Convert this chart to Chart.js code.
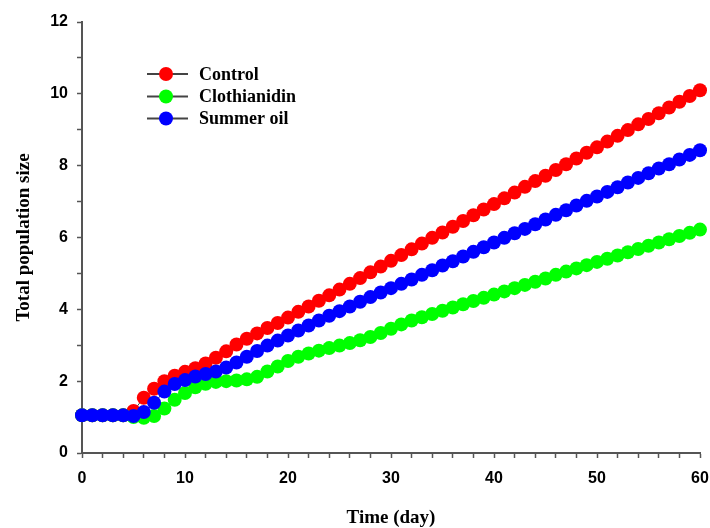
<!DOCTYPE html>
<html>
<head>
<meta charset="utf-8">
<title>Total population size</title>
<script src="https://cdn.jsdelivr.net/npm/chart.js@4.4.1/dist/chart.umd.min.js"></script>
<style>
    body { margin: 0; background: #fff; }
    #myChart { display: block; }
</style>
</head>
<body>
<canvas id="myChart" width="710" height="528"></canvas>
<script>
// data
const days = [0,1,2,3,4,5,6,7,8,9,10,11,12,13,14,15,16,17,18,19,20,21,22,23,24,25,26,27,28,29,30,
    31,32,33,34,35,36,37,38,39,40,41,42,43,44,45,46,47,48,49,50,51,52,53,54,55,56,57,58,59,60];
const control = [1.05,1.05,1.05,1.05,1.05,1.17,1.54,1.79,2.00,2.15,2.26,2.36,2.49,2.65,2.83,3.02,
    3.18,3.33,3.48,3.62,3.77,3.93,4.08,4.24,4.39,4.55,4.71,4.87,5.03,5.19,5.35,5.51,5.67,5.83,5.99,
    6.14,6.30,6.46,6.62,6.78,6.93,7.09,7.25,7.41,7.57,7.72,7.88,8.04,8.20,8.36,8.51,8.67,8.83,8.99,
    9.15,9.30,9.46,9.62,9.78,9.94,10.10];
const clothianidin = [1.05,1.05,1.05,1.05,1.05,1.00,0.98,1.03,1.24,1.48,1.67,1.83,1.93,1.98,2.00,
    2.02,2.05,2.12,2.27,2.41,2.56,2.68,2.77,2.85,2.92,2.99,3.06,3.14,3.23,3.34,3.46,3.58,3.69,3.78,
    3.87,3.96,4.05,4.14,4.23,4.32,4.41,4.50,4.59,4.68,4.77,4.86,4.96,5.05,5.14,5.23,5.32,5.41,5.50,
    5.59,5.68,5.77,5.86,5.95,6.04,6.13,6.22];
const summerOil = [1.05,1.05,1.05,1.05,1.05,1.03,1.14,1.40,1.71,1.92,2.03,2.13,2.20,2.27,2.38,2.52,
    2.68,2.84,2.99,3.13,3.27,3.41,3.55,3.69,3.82,3.95,4.08,4.21,4.34,4.47,4.59,4.71,4.83,4.96,5.09,
    5.22,5.34,5.47,5.60,5.73,5.86,5.99,6.12,6.24,6.37,6.50,6.63,6.76,6.89,7.02,7.14,7.27,7.40,7.53,
    7.66,7.79,7.92,8.04,8.17,8.30,8.43];
const seriesNames = ['Control', 'Clothianidin', 'Summer oil'];
const seriesColors = ['#ff0000', '#00ff00', '#0000ff'];
const xTickLabels = [0, 10, 20, 30, 40, 50, 60];
const yTickLabels = [0, 2, 4, 6, 8, 10, 12];

const axisColor = '#555555';
const serif = '"Liberation Serif", "Times New Roman", serif';
const sans = '"Liberation Sans", Arial, sans-serif';

function make_points( values ) {
    // pair each value with its day
    let pts = [];
    for( let i = 0; i < days.length; ++i ) {
        pts.push({ x: days[i], y: values[i] });
    }
    return pts;
}

function make_dataset( idx, values, drawOrder ) {
    return {
        label: seriesNames[idx],
        data: make_points(values),
        borderColor: '#444444',
        borderWidth: 1,
        pointRadius: 7,
        pointHoverRadius: 7,
        pointBorderWidth: 0,
        pointBackgroundColor: seriesColors[idx],
        pointBorderColor: seriesColors[idx],
        clip: false,
        order: drawOrder
    };
}

// legend with a line through the marker, drawn in the top-left of the plot
const lineLegend = {
    id: 'lineLegend',
    afterDraw(chart) {
        const ctx = chart.ctx;
        const x0 = 147, x1 = 188, cx = 166, tx = 199;
        const rows = [74, 96.5, 118.5];
        ctx.save();
        for( let i = 0; i < seriesNames.length; ++i ) {
            let y = rows[i];
            ctx.strokeStyle = '#444444';
            ctx.lineWidth = 2;
            ctx.beginPath();
            ctx.moveTo(x0, y);
            ctx.lineTo(x1, y);
            ctx.stroke();
            ctx.fillStyle = seriesColors[i];
            ctx.beginPath();
            ctx.arc(cx, y, 7, 0, Math.PI * 2);
            ctx.fill();
            ctx.fillStyle = '#000';
            ctx.font = 'bold 18px ' + serif;
            ctx.textBaseline = 'middle';
            ctx.textAlign = 'left';
            ctx.fillText(seriesNames[i], tx, y + 1);
        }
        ctx.restore();
    }
};

const config = {
    type: 'line',
    data: {
        datasets: [
            make_dataset(0, control, 2),
            make_dataset(1, clothianidin, 1),
            make_dataset(2, summerOil, 0)
        ]
    },
    options: {
        responsive: false,
        animation: false,
        devicePixelRatio: 1,
        layout: { padding: { left: 0, right: 10, top: 22, bottom: 0 } },
        plugins: {
            legend: { display: false },
            tooltip: { enabled: false }
        },
        scales: {
            x: {
                type: 'linear',
                min: 0,
                max: 60,
                afterFit: function(scale) {
                    scale.height = 75;
                    // let the end labels hang over the padding
                    scale.paddingLeft = 0;
                    scale.paddingRight = 0;
                },
                border: { color: axisColor, width: 2 },
                grid: { drawOnChartArea: false, drawTicks: true, tickLength: 5, tickColor: axisColor, tickWidth: 1.5 },
                ticks: {
                    stepSize: 2,
                    autoSkip: false,
                    maxRotation: 0,
                    padding: 11,
                    color: '#000',
                    font: { family: sans, size: 16, weight: 'bold' },
                    callback: function(v) { return xTickLabels.includes(v) ? String(v) : ''; }
                },
                title: {
                    display: true,
                    text: 'Time (day)',
                    color: '#000',
                    font: { family: serif, size: 19, weight: 'bold', lineHeight: 1 },
                    padding: { top: 0, bottom: 0 }
                }
            },
            y: {
                type: 'linear',
                min: 0,
                max: 12,
                afterFit: function(scale) { scale.width = 82; },
                border: { color: axisColor, width: 2 },
                grid: { drawOnChartArea: false, drawTicks: true, tickLength: 5, tickColor: axisColor, tickWidth: 1.5 },
                ticks: {
                    stepSize: 1,
                    autoSkip: false,
                    padding: 9,
                    color: '#000',
                    font: { family: sans, size: 16, weight: 'bold' },
                    callback: function(v) { return yTickLabels.includes(v) ? String(v) : ''; }
                },
                title: {
                    display: true,
                    text: 'Total population size',
                    color: '#000',
                    font: { family: serif, size: 19, weight: 'bold', lineHeight: 1 },
                    padding: { top: 15, bottom: 0 }
                }
            }
        }
    },
    plugins: [lineLegend]
};

const myChart = new Chart(document.getElementById('myChart'), config);
</script>
</body>
</html>
